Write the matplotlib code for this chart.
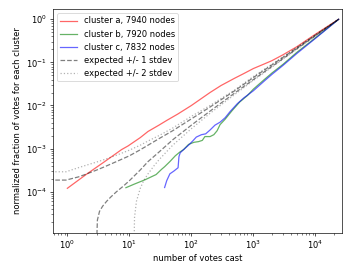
import matplotlib
matplotlib.use('Agg')
import matplotlib.pyplot as plt

# votes received by each cluster (cumulative fraction vs. votes cast)
a_x = [1, 2, 4, 7.5, 9.5, 15, 20, 30, 40, 60, 100, 150, 200, 300, 500, 700,
       1000, 1500, 2000, 3000, 5000, 10000, 23692]
a_y = [1.2e-4, 2.5e-4, 5e-4, 9.5e-4, 1.15e-3, 1.8e-3, 2.5e-3, 3.5e-3, 4.5e-3,
       6.3e-3, 1.0e-2, 1.5e-2, 2.0e-2, 2.9e-2, 4.3e-2, 5.5e-2, 7.2e-2, 9.2e-2,
       0.11, 0.15, 0.23, 0.45, 1.0]

b_x = [8.8, 12, 18, 27, 33, 37, 45, 55, 65, 75, 90, 110, 130, 150, 165, 200,
       230, 260, 290, 350, 450, 600, 800, 1000, 1500, 2000, 3000, 5000, 10000,
       23692]
b_y = [1.24e-4, 1.5e-4, 1.9e-4, 2.5e-4, 3.3e-4, 3.8e-4, 5e-4, 6.8e-4, 8.3e-4,
       9.5e-4, 1.25e-3, 1.4e-3, 1.45e-3, 1.55e-3, 1.9e-3, 1.9e-3, 2.1e-3,
       2.6e-3, 3.6e-3, 4.8e-3, 7.5e-3, 1.2e-2, 1.7e-2, 2.4e-2, 4.0e-2, 5.7e-2,
       9.0e-2, 0.17, 0.37, 1.0]

c_x = [37, 40, 45, 52, 61, 63, 66, 75, 90, 105, 120, 145, 170, 200, 240, 290,
       350, 420, 550, 700, 1000, 1500, 2000, 3000, 5000, 10000, 23692]
c_y = [1.25e-4, 1.8e-4, 2.6e-4, 3.0e-4, 3.6e-4, 6.5e-4, 8.0e-4, 9.5e-4,
       1.2e-3, 1.5e-3, 1.85e-3, 2.1e-3, 2.2e-3, 2.7e-3, 3.5e-3, 4.1e-3,
       5.2e-3, 7.2e-3, 1.1e-2, 1.5e-2, 2.2e-2, 3.7e-2, 5.3e-2, 8.5e-2, 0.16,
       0.36, 1.0]

# expected band
up_x = [0.5, 0.95, 1.5, 2, 3, 4, 6, 10, 15, 20, 30, 50, 100, 200, 500, 1000,
        2000, 5000, 10000, 23692]
up1_y = [1.86e-4, 1.86e-4, 2.2e-4, 2.55e-4, 3.2e-4, 3.8e-4, 4.9e-4, 6.8e-4,
         9.4e-4, 1.2e-3, 1.7e-3, 2.6e-3, 4.9e-3, 9.2e-3, 2.2e-2, 4.45e-2,
         8.8e-2, 0.216, 0.429, 1.0]
up2_y = [2.9e-4, 2.9e-4, 3.6e-4, 4.1e-4, 4.9e-4, 5.6e-4, 6.9e-4, 9.2e-4,
         1.2e-3, 1.5e-3, 2.0e-3, 3.0e-3, 5.6e-3, 1.0e-2, 2.3e-2, 4.7e-2,
         9.1e-2, 0.221, 0.437, 1.0]

lo1_x = [2.95, 3.05, 3.3, 3.7, 4.3, 5, 6.2, 8, 10, 15, 20, 30, 50, 100, 200,
         500, 1000, 2000, 5000, 10000, 23692]
lo1_y = [5e-6, 2.2e-5, 3.5e-5, 4.6e-5, 6e-5, 7.5e-5, 1.0e-4, 1.35e-4, 1.8e-4,
         3.2e-4, 5.0e-4, 8.3e-4, 1.6e-3, 3.5e-3, 7.4e-3, 1.95e-2, 4.0e-2,
         8.1e-2, 0.206, 0.415, 1.0]

lo2_x = [11.9, 12.1, 13, 15, 17, 20, 25, 30, 50, 100, 200, 500, 1000, 2000,
         5000, 10000, 23692]
lo2_y = [5e-6, 2.5e-5, 6e-5, 1.2e-4, 1.8e-4, 2.6e-4, 4.0e-4, 5.5e-4, 1.2e-3,
         2.9e-3, 6.6e-3, 1.8e-2, 3.8e-2, 7.8e-2, 0.20, 0.41, 1.0]

fig = plt.figure(figsize=(343 / 60, 263 / 60))
ax = fig.add_axes([0.1536, 0.1152, 0.844, 0.8506])

ax.plot(a_x, a_y, color='r', alpha=0.6, label='cluster a, 7940 nodes')
ax.plot(b_x, b_y, color='g', alpha=0.6, label='cluster b, 7920 nodes')
ax.plot(c_x, c_y, color='b', alpha=0.6, label='cluster c, 7832 nodes')
ax.plot(up_x, up1_y, 'k--', alpha=0.5, label='expected +/- 1 stdev')
ax.plot(lo1_x, lo1_y, 'k--', alpha=0.5)
ax.plot(up_x, up2_y, 'k:', alpha=0.3, label='expected +/- 2 stdev')
ax.plot(lo2_x, lo2_y, 'k:', alpha=0.3)

ax.set_xscale('log')
ax.set_yscale('log')
ax.set_xlim(0.58, 27000)
ax.set_ylim(1.12e-5, 1.73)
ax.set_xlabel('number of votes cast')
ax.set_ylabel('normalized fraction of votes for each cluster')
ax.legend(loc=2)

fig.savefig('out.png', dpi=60)
